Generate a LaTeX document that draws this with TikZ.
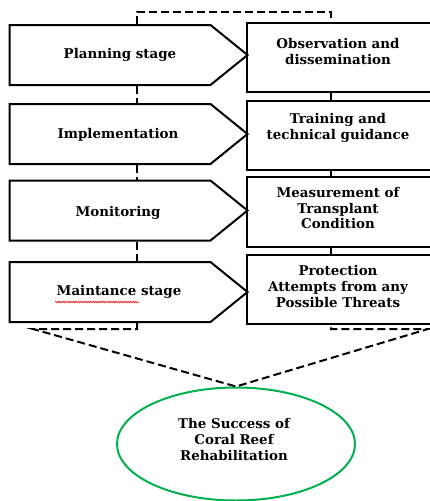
\documentclass[tikz,border=0pt]{standalone}
\usepackage{fontspec}
\setmainfont{DejaVu Serif}
\usetikzlibrary{shapes.symbols,shapes.geometric,decorations.pathmorphing}
\definecolor{ringgreen}{RGB}{0,176,80}
\begin{document}
\begin{tikzpicture}[x=1pt,y=-1pt,
  txt/.style={font=\fontsize{13.4}{16}\selectfont\bfseries, align=center, inner sep=0pt},
  arrowbox/.style={draw, line width=2pt, signal, signal to=east, signal pointer angle=78,
    minimum width=238pt, minimum height=60pt, inner sep=0pt},
  rightbox/.style={draw, line width=2pt, rectangle, minimum width=185pt, inner sep=0pt},
  dashlink/.style={line width=2pt, dash pattern=on 8pt off 4pt},
  solidlink/.style={line width=2pt}]
\useasboundingbox (0,0) rectangle (430,501);
% left arrows
\node[arrowbox] (p1) at (110,55) {};
\node[arrowbox] (p2) at (110,134) {};
\node[arrowbox] (p3) at (110,210.5) {};
\node[arrowbox] (p4) at (110,292) {};
\node[txt] (t1) at (120,55) {Planning stage};
\node[txt] (t2) at (118,135) {Implementation};
\node[txt] (t3) at (118,213) {Monitoring};
\node[txt] (t4) at (119,292) {Maintance stage};
% right boxes
\node[rightbox, minimum height=69pt] (r1) at (339.5,57.5) {};
\node[rightbox, minimum height=69pt] (r2) at (339.5,135.5) {};
\node[rightbox, minimum height=70pt] (r3) at (339.5,212) {};
\node[rightbox, minimum height=69pt] (r4) at (339.5,289.5) {};
\node[txt] (s1) at (338,51.5) {Observation and\\dissemination};
\node[txt] (s2) at (338,128) {Training and\\technical guidance};
\node[txt] (s3) at (338,208) {Measurement of\\Transplant\\Condition};
\node[txt] (s4) at (338,286) {Protection\\Attempts from any\\Possible Threats};
% result
\node[draw=ringgreen, line width=2pt, ellipse, minimum width=238pt, minimum height=113pt, inner sep=0pt] (e) at (236,444) {};
\node[txt] (et) at (234,439) {The Success of\\Coral Reef\\Rehabilitation};
% spell-check underline
\draw[red, line width=0.6pt, decorate, decoration={snake, amplitude=0.8pt, segment length=2.5pt}]
  (55,302) -- (139,302);
% links
\coordinate (lx) at (137,0);
\coordinate (rx) at (331,0);
\draw[dashlink] (p1.north -| lx) -- ++(0,-12) -| (r1.north -| rx);
\draw[dashlink] (p1.south -| lx) -- (p2.north -| lx);
\draw[dashlink] (p2.south -| lx) -- (p3.north -| lx);
\draw[dashlink] (p3.south -| lx) -- (p4.north -| lx);
\draw[solidlink] (r1.south -| rx) -- (r2.north -| rx);
\draw[solidlink] (r2.south -| rx) -- (r3.north -| rx);
\draw[solidlink] (r3.south -| rx) -- (r4.north -| rx);
\coordinate (bl) at (33,329);
\coordinate (br) at (428,329);
\draw[dashlink] (p4.south -| lx) -- (lx |- bl) -- (bl) -- (e.north) -- (br) -- (rx |- br) -- (r4.south -| rx);
\end{tikzpicture}
\end{document}
